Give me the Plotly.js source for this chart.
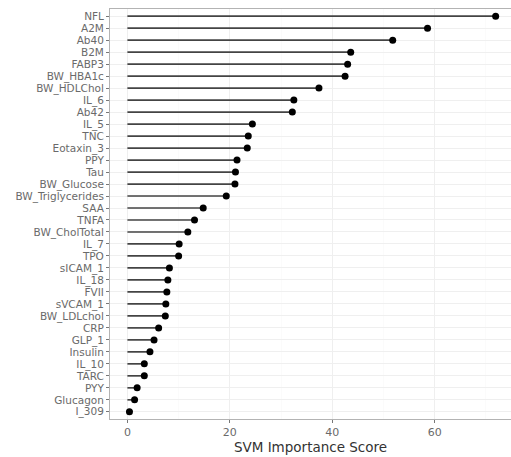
<!DOCTYPE html>
<html>
<head>
<meta charset="utf-8">
<script src="https://cdn.plot.ly/plotly-3.0.1.min.js"></script>
<style>html,body{margin:0;padding:0;background:#fff;}#chart{width:511px;height:457px;}</style>
</head>
<body>
<div id="chart"></div>
<script>
const features = ["NFL","A2M","Ab40","B2M","FABP3","BW_HBA1c","BW_HDLChol","IL_6","Ab42","IL_5","TNC","Eotaxin_3","PPY","Tau","BW_Glucose","BW_Triglycerides","SAA","TNFA","BW_CholTotal","IL_7","TPO","sICAM_1","IL_18","FVII","sVCAM_1","BW_LDLchol","CRP","GLP_1","Insulin","IL_10","TARC","PYY","Glucagon","I_309"];
const scores = [71.9,58.6,51.8,43.6,43.0,42.5,37.4,32.5,32.2,24.4,23.6,23.4,21.4,21.1,21.0,19.3,14.8,13.1,11.8,10.1,10.0,8.2,7.9,7.7,7.5,7.4,6.1,5.2,4.4,3.3,3.3,1.9,1.4,0.4];
const xTicks = [0,20,40,60];

const segX = [], segY = [];
features.forEach((f,i)=>{ segX.push(0, scores[i], null); segY.push(f, f, null); });

const traces = [
  {type:'scatter', mode:'lines', x:segX, y:segY, line:{color:'#444444', width:1.7}, connectgaps:false, hoverinfo:'skip', showlegend:false},
  {type:'scatter', mode:'markers', x:scores, y:features, marker:{color:'#000', size:7}, showlegend:false}
];

const layout = {
  width:511, height:457,
  margin:{l:110, r:0, t:9, b:38},
  paper_bgcolor:'#fff', plot_bgcolor:'#fff',
  font:{family:'DejaVu Sans', color:'#666'},
  xaxis:{
    range:[-3.4, 74.9], tickmode:'array', tickvals:xTicks, ticktext:xTicks.map(String),
    showgrid:true, gridcolor:'#efefef', gridwidth:1,
    minor:{tickvals:[10,30,50,70], showgrid:true, gridcolor:'#f7f7f7', gridwidth:0.5, ticks:''},
    zeroline:false, showline:true, mirror:true, linecolor:'#b3b3b3', linewidth:1,
    ticks:'outside', ticklen:3, tickcolor:'#777', tickfont:{size:11, color:'#6a6a6a'},
    title:{text:'SVM Importance Score', font:{size:13.5, color:'#333'}, standoff:4}
  },
  yaxis:{
    type:'category', categoryorder:'array', categoryarray:features.slice().reverse(),
    tickmode:'array', tickvals:features, ticktext:features,
    range:[-0.6, 33.6],
    showgrid:true, gridcolor:'#efefef', gridwidth:1,
    zeroline:false, showline:true, mirror:true, linecolor:'#b3b3b3', linewidth:1,
    ticks:'outside', ticklen:3, tickcolor:'#777', tickfont:{size:10.5, color:'#6a6a6a'}
  }
};
Plotly.newPlot('chart', traces, layout, {displayModeBar:false, staticPlot:true});
</script>
</body>
</html>
